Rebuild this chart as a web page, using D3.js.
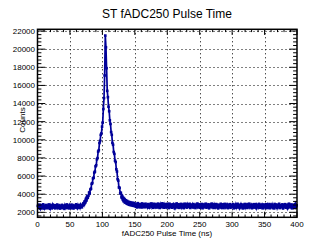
<!DOCTYPE html>
<html><head><meta charset="utf-8">
<script src="https://cdn.jsdelivr.net/npm/d3@7"></script>
<style>body{margin:0;background:#fff}svg{display:block}text{font-family:"Liberation Sans",Arial,sans-serif}</style>
</head><body>
<script>
const title = "ST fADC250 Pulse Time";
const xTitle = "fADC250 Pulse Time (ns)";
const yTitle = "Counts";
const binStart = 0, binWidth = 1;
const xTicks = [0,50,100,150,200,250,300,350,400];
const yTicks = [2000,4000,6000,8000,10000,12000,14000,16000,18000,20000,22000];
const counts = [
2710,2480,2850,2560,2390,2770,2640,2500,2880,2600,
2420,2730,2560,2810,2450,2690,2530,2870,2610,2400,
2760,2580,2470,2840,2650,2520,2790,2440,2700,2570,
2860,2490,2630,2750,2410,2680,2550,2820,2460,2720,
2590,2380,2800,2620,2510,2870,2540,2670,2430,2780,
2600,2490,2850,2560,2700,2420,2740,2610,2530,2880,
2650,2470,2790,2580,2720,2500,2830,2640,2560,2760,
2980,2820,3190,3050,3480,3310,3750,3600,3820,4180,
4090,4520,4610,5150,5220,5740,5810,6380,6490,7080,
7190,7850,7980,8700,8850,9650,9880,10550,10700,11450,
11900,13400,14600,17100,21500,20200,17900,15400,14700,13650,
13150,12150,11750,10850,10550,9650,9450,8650,8450,7700,
7550,6750,6500,5650,5500,4750,4700,4100,4150,3650,
3800,3380,3560,3200,3420,3060,3330,2950,3240,2880,
3150,2830,3120,2790,3080,2760,3040,2720,3030,2700,
2960,2620,2870,2540,3010,2700,2590,2920,2660,2830,
2530,2980,2740,2610,2890,2560,2950,2680,2800,2570,
2910,2640,2520,2860,2730,2980,2600,2810,2500,2940,
2690,2570,2870,2750,2530,2960,2620,2780,2480,2900,
2710,2590,2990,2650,2830,2510,2880,2700,2560,2930,
2640,2820,2470,2950,2690,2580,2870,2510,2760,2900,
2600,2450,2840,2710,2980,2550,2670,2890,2490,2790,
2620,2930,2540,2730,2860,2460,2680,2950,2570,2800,
2520,2880,2700,2610,2940,2480,2770,2650,2850,2530,
2910,2590,2740,2470,2830,2690,2970,2560,2660,2880,
2500,2790,2620,2920,2450,2730,2860,2580,2680,2950,
2510,2770,2640,2890,2440,2710,2830,2560,2960,2600,
2750,2480,2870,2690,2540,2910,2650,2780,2430,2840,
2590,2720,2940,2520,2660,2880,2470,2800,2610,2930,
2550,2700,2850,2460,2760,2630,2900,2500,2740,2820,
2580,2910,2440,2760,2650,2870,2510,2700,2940,2560,
2810,2470,2680,2890,2600,2750,2430,2850,2620,2920,
2530,2720,2860,2480,2790,2640,2950,2550,2690,2830,
2450,2770,2610,2900,2520,2740,2880,2460,2660,2810,
2590,2930,2500,2710,2840,2570,2780,2440,2870,2630,
2740,2480,2890,2600,2820,2520,2700,2910,2450,2780,
2630,2860,2540,2690,2430,2920,2580,2760,2850,2490,
2710,2610,2940,2470,2800,2560,2680,2880,2420,2750,
2640,2900,2510,2730,2830,2460,2670,2950,2550,2790,
2600,2870,2440,2720,2810,2530,2690,2920,2580,2770
];

const W = 311, H = 240;
const L = 37.5, R = 297, T = 29.3, B = 217.3;
const col = "#000099";
const svg = d3.select("body").append("svg").attr("width", W).attr("height", H);
const x = d3.scaleLinear().domain([0, 400]).range([L, R]);
const y = d3.scaleLinear().domain([1450, 22190]).range([B, T]);

// grid
const g = svg.append("g").attr("stroke", "#000").attr("stroke-width", 1).attr("stroke-dasharray", "1,3");
g.selectAll(".gx").data(xTicks.slice(1, -1)).join("line")
  .attr("x1", d => Math.round(x(d)) + 0.5).attr("x2", d => Math.round(x(d)) + 0.5)
  .attr("y1", T).attr("y2", B);
g.selectAll(".gy").data(yTicks).join("line")
  .attr("y1", d => Math.round(y(d)) + 0.5).attr("y2", d => Math.round(y(d)) + 0.5)
  .attr("x1", L).attr("x2", R);

// data
const pts = counts.map((c, i) => [binStart + (i + 0.5) * binWidth, c]);
svg.append("path").datum(pts)
  .attr("d", d3.line().x(d => x(d[0])).y(d => y(d[1])))
  .attr("fill", "none").attr("stroke", col).attr("stroke-width", 1.7);
svg.append("g").selectAll("rect").data(pts).join("rect")
  .attr("x", d => x(d[0]) - 1.3).attr("y", d => y(d[1]) - 1.3)
  .attr("width", 2.6).attr("height", 2.6).attr("fill", col);

// axes (ticks inward on all sides)
const majX = 5.6, minX = 2.8, majY = 7.8, minY = 3.9;
const xMinor = d3.range(0, 401, 10);
const yMinor = d3.range(1600, 22190, 400);
const tk = svg.append("g").attr("stroke", "#000").attr("stroke-width", 1);
xMinor.forEach(v => {
  const len = v % 50 === 0 ? majX : minX;
  const px = x(v);
  tk.append("line").attr("x1", px).attr("x2", px).attr("y1", B).attr("y2", B - len);
  tk.append("line").attr("x1", px).attr("x2", px).attr("y1", T).attr("y2", T + len);
});
yMinor.forEach(v => {
  const len = v % 2000 === 0 ? majY : minY;
  const py = y(v);
  tk.append("line").attr("y1", py).attr("y2", py).attr("x1", L).attr("x2", L + len);
  tk.append("line").attr("y1", py).attr("y2", py).attr("x1", R).attr("x2", R - len);
});
svg.append("rect").attr("x", L).attr("y", T).attr("width", R - L).attr("height", B - T)
  .attr("fill", "none").attr("stroke", "#000").attr("stroke-width", 1.5);

// labels
svg.append("g").selectAll("text").data(xTicks).join("text")
  .attr("x", d => x(d)).attr("y", 227).attr("text-anchor", "middle")
  .attr("font-size", 8).text(d => d);
svg.append("g").selectAll("text").data(yTicks).join("text")
  .attr("x", 35).attr("y", d => y(d) + 2.9).attr("text-anchor", "end")
  .attr("font-size", 8).text(d => d);
svg.append("text").attr("x", 167).attr("y", 17.5).attr("text-anchor", "middle")
  .attr("font-size", 12).text(title);
svg.append("text").attr("x", 167).attr("y", 236).attr("text-anchor", "middle")
  .attr("font-size", 8).text(xTitle);
svg.append("text").attr("transform", "translate(24.5,120) rotate(-90)")
  .attr("text-anchor", "middle").attr("font-size", 8).text(yTitle);
</script>
</body></html>
